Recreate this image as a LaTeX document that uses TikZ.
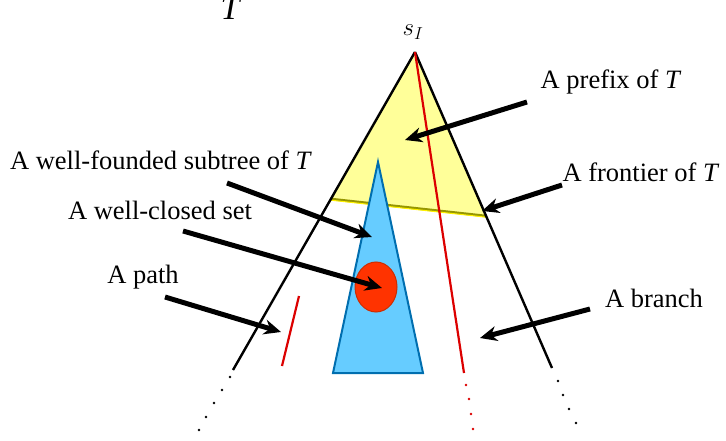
\documentclass[tikz,border=0pt]{standalone}
\usepackage{fontspec}
\setmainfont{Liberation Serif}
\usetikzlibrary{arrows.meta,shapes.geometric}
\definecolor{yfill}{RGB}{255,255,153}
\definecolor{yline}{RGB}{150,150,0}
\definecolor{bfill}{RGB}{102,204,255}
\definecolor{bline}{RGB}{0,110,175}
\definecolor{rline}{RGB}{220,0,0}
\definecolor{efill}{RGB}{255,51,0}
\definecolor{eline}{RGB}{205,45,0}
\tikzset{
  lbl/.style={font=\fontsize{26.5}{30}\selectfont, inner sep=0pt},
  bigarrow/.style={line width=5pt, -{Stealth[length=17pt,width=15pt]}},
  treeline/.style={line width=2.4pt, black},
  dotb/.style={fill=black},
  dotr/.style={fill=rline},
}
\begin{document}
\begin{tikzpicture}[x=1pt,y=-1pt]
\useasboundingbox (0,0) rectangle (726,441);
% key points
\coordinate (apex) at (415,52);
\coordinate (lend) at (233,370);
\coordinate (rend) at (552,368);
\coordinate (fl) at (331,199);
\coordinate (fr) at (486,216);
\coordinate (rb) at (464,373);
% yellow prefix
\fill[yfill] (apex) -- (fl) -- (fr) -- cycle;
\draw[yline, line width=2.6pt] (fl) -- (fr);
\draw[yellow, line width=1pt] ([yshift=-1.2pt]fl) -- ([yshift=-1.2pt]fr);
% blue well-founded subtree
\coordinate (bt) at (378,162);
\coordinate (bl) at (333,373);
\coordinate (br) at (423,373);
\draw[bline, fill=bfill, line width=2pt, line join=miter] (bt) -- (bl) -- (br) -- cycle;
% red ellipse
\node[ellipse, draw=eline, fill=efill, line width=1pt, minimum width=42pt, minimum height=50pt, inner sep=0pt] (wc) at (376,287) {};
% tree lines
\draw[treeline] (apex) -- (lend);
\draw[treeline] (apex) -- (rend);
\draw[rline, line width=2.2pt] (apex) -- (rb);
% path segment
\coordinate (p1) at (299,296);
\coordinate (p2) at (282,366);
\draw[rline, line width=2.2pt] (p1) -- (p2);
% dots
\foreach \p in {(230,377),(222,390),(214,403),(206,417),(199,430)} \fill[dotb] \p circle (1.3);
\foreach \p in {(558,381),(563,395),(569,409),(576,423)} \fill[dotb] \p circle (1.3);
\foreach \p in {(466,385),(469,399),(471,414),(473,429)} \fill[dotr] \p circle (1.3);
% labels
\node[font=\fontsize{34}{36}\selectfont, inner sep=0pt] (T) at (231,8) {\textit{T}};
\node[font=\fontsize{27}{30}\selectfont, inner sep=0pt] (s) at (413,32) {$s_I$};
\node[lbl] (prefix) at (611,82) {A prefix of \textit{T}};
\node[lbl] (frontier) at (641,172) {A frontier of \textit{T}};
\node[lbl] (wf) at (161,160) {A well-founded subtree of \textit{T}};
\node[lbl] (wcs) at (160,210) {A well-closed set};
\node[lbl] (path) at (143,277) {A path};
\node[lbl] (branch) at (654,298) {A branch};
% arrows
\coordinate (a1s) at (527,102); \coordinate (a1t) at (405,140);
\coordinate (a2s) at (562,185); \coordinate (a2t) at (482,211);
\coordinate (a3s) at (227,183); \coordinate (a3t) at (372,237);
\coordinate (a4s) at (183,231); \coordinate (a4t) at (382,288);
\coordinate (a5s) at (165,297); \coordinate (a5t) at (281,332);
\coordinate (a6s) at (590,309); \coordinate (a6t) at (480,338);
\draw[bigarrow] (a1s) -- (a1t);
\draw[bigarrow] (a2s) -- (a2t);
\draw[bigarrow] (a3s) -- (a3t);
\draw[bigarrow] (a4s) -- (a4t);
\draw[bigarrow] (a5s) -- (a5t);
\draw[bigarrow] (a6s) -- (a6t);
\end{tikzpicture}
\end{document}
